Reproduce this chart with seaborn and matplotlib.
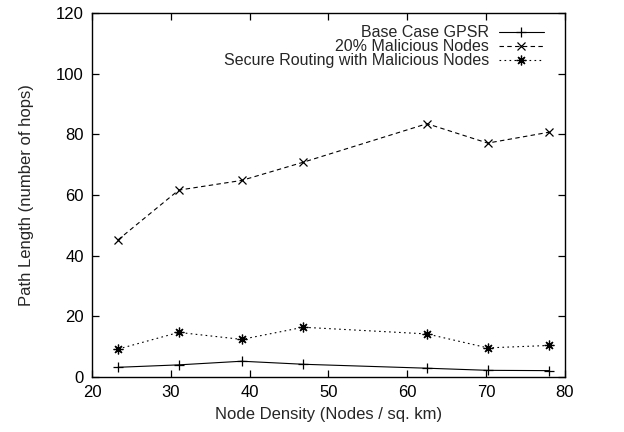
import matplotlib
matplotlib.use("Agg")
import matplotlib.pyplot as plt
import seaborn as sns
import pandas as pd

# Node density (x) and path length per scenario (y)
density = [23.3, 31.0, 39.0, 46.8, 62.5, 70.2, 78.0]
base_gpsr = [3.2, 4.0, 5.2, 4.2, 2.9, 2.2, 2.1]
malicious = [45.2, 61.6, 64.8, 70.8, 83.5, 77.1, 80.7]
secure = [9.2, 14.7, 12.4, 16.4, 14.2, 9.6, 10.4]

labels = ["Base Case GPSR", "20% Malicious Nodes",
          "Secure Routing with Malicious Nodes"]

sns.set_style("ticks")
plt.rcParams["font.family"] = ["Liberation Sans", "DejaVu Sans"]

fig = plt.figure(figsize=(6.24, 4.32), dpi=100)
ax = fig.add_axes([0.1474, 0.1273, 0.7580, 0.8427])

styles = [
    dict(marker="+", ls="-", ms=7),
    dict(marker="x", ls=(0, (4, 3)), ms=6),
    dict(marker=(8, 2, 0), ls=(0, (1.5, 3)), ms=7),
]
series = [base_gpsr, malicious, secure]

for y, lab, st in zip(series, labels, styles):
    df = pd.DataFrame({"x": density, "y": y})
    sns.lineplot(data=df, x="x", y="y", ax=ax, color="black",
                 linewidth=0.8, linestyle=st["ls"], marker=st["marker"],
                 markersize=st["ms"], markeredgewidth=0.9,
                 markeredgecolor="black", label=lab)

ax.set_xlim(20, 80)
ax.set_ylim(0, 120)
ax.set_xticks(range(20, 81, 10))
ax.set_yticks(range(0, 121, 20))
ax.tick_params(direction="in", top=True, right=True, length=5,
               labelsize=12, width=0.9, colors="black", pad=6)
for sp in ax.spines.values():
    sp.set_linewidth(1.0)
    sp.set_color("black")
    sp.set_visible(True)

ax.set_xlabel("Node Density (Nodes / sq. km)", fontsize=12, labelpad=5)
ax.set_ylabel("Path Length (number of hops)", fontsize=12, labelpad=16)

ax.legend(loc="upper right", bbox_to_anchor=(0.975, 0.993), frameon=False,
          markerfirst=False, fontsize=11.5, handlelength=2.8,
          labelspacing=-0.05, handletextpad=0.6, borderaxespad=0.2)

fig.savefig("out.png", dpi=100)
